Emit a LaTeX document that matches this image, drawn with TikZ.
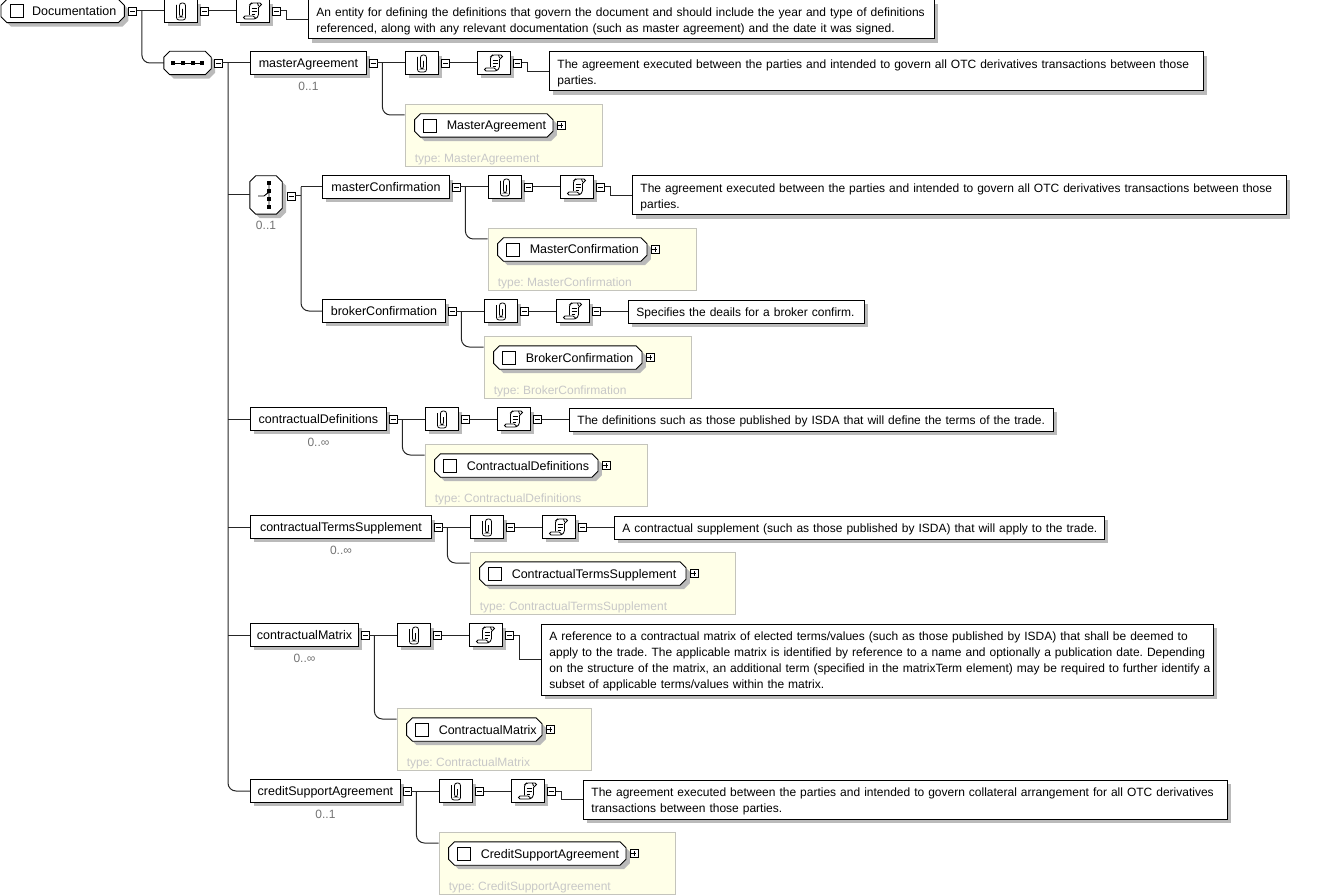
\documentclass[tikz,border=0pt]{standalone}
\usepackage{fontspec}
\setmainfont{Liberation Sans}
\usetikzlibrary{positioning,shadows}
\definecolor{typefill}{HTML}{FFFFE8}
\definecolor{typeline}{HTML}{C4C4BC}
\definecolor{typetext}{HTML}{C8C8C8}
\newcommand{\labelfont}{\fontsize{12.5}{16}\selectfont}
\tikzset{
  shadowed/.style={drop shadow={shadow xshift=4pt,shadow yshift=-4pt,fill=black!27,opacity=1}},
  conn/.style={draw=black!85,line width=1pt},
  elem/.style={rectangle,draw,fill=white,line width=0.9pt,minimum height=22.5pt,inner sep=0pt,text height=11pt,text depth=2pt,font=\labelfont,shadowed},
  chamf/.style={rectangle,minimum height=23pt,inner sep=0pt},
  annobox/.style={elem,minimum width=33pt},
  textbox/.style={rectangle,draw,fill=white,line width=0.9pt,anchor=north west,inner xsep=8pt,inner ysep=0pt,align=left,shadowed},
  minusbox/.style={rectangle,draw,fill=white,line width=0.8pt,minimum size=8pt,inner sep=0pt,
    path picture={\draw[line width=0.8pt] ([xshift=1.5pt]path picture bounding box.west) -- ([xshift=-1.5pt]path picture bounding box.east);}},
  plusbox/.style={rectangle,draw,fill=white,line width=0.8pt,minimum size=8pt,inner sep=0pt,
    path picture={\draw[line width=0.8pt] ([xshift=1.5pt]path picture bounding box.west) -- ([xshift=-1.5pt]path picture bounding box.east)
      ([yshift=1.5pt]path picture bounding box.south) -- ([yshift=-1.5pt]path picture bounding box.north);}},
  tickbox/.style={rectangle,draw,fill=white,line width=0.9pt,minimum size=13pt,inner sep=0pt},
  namelabel/.style={anchor=west,inner sep=0pt,text height=11pt,text depth=2pt,font=\labelfont},
  typebox/.style={rectangle,draw=typeline,fill=typefill,line width=0.9pt,anchor=north west,minimum height=62pt,inner sep=0pt},
  typelabel/.style={text=typetext,anchor=west,inner sep=0pt},
  occlabel/.style={text=black!55,inner sep=0pt},
  every node/.append style={font=\fontsize{12}{16}\selectfont\frenchspacing},
  clipicon/.pic={
    \draw[line width=0.8pt,rounded corners=2.5pt] (2,-2) -- (2,6) -- (-1,6) -- (-1,-8) -- (5,-8) -- (5,9) -- (-4,9) -- (-4,-6);
  },
  scrollicon/.pic={
    \draw[line width=0.8pt,rounded corners=1.5pt] (-3,4) -- (-3,-6) -- (-1,-8) -- (9,-8) -- (9,-5) -- (6,-5) -- (6,5) -- (3,8) -- (-9,8) -- (-9,5) -- (2,5) -- (3,8);
    \draw[line width=0.8pt] (5,-8) -- (6,-5);
    \draw[line width=0.8pt] (-1,-3) -- (4,-3) (-1,0) -- (4,0) (-1,3) -- (2,3);
  }
}
% outline of a chamfered node
\newcommand{\chamfdraw}[1]{
  \draw[line width=0.9pt,fill=white,shadowed] ([xshift=6pt]#1.north west) -- ([xshift=-6pt]#1.north east) -- ([yshift=-6pt]#1.north east) -- ([yshift=6pt]#1.south east) -- ([xshift=-6pt]#1.south east) -- ([xshift=6pt]#1.south west) -- ([yshift=6pt]#1.south west) -- ([yshift=-6pt]#1.north west) -- cycle;
}
% clip, scroll and text of one row: id, y, clip x, text width, lines, text
\newcommand{\annorow}[6]{
  \node[annobox] (#1clip) at (#3+16.5,#2) {};
  \pic at (#1clip) {clipicon};
  \node[minusbox] (#1cmin) at (#3+40.5,#2) {};
  \node[annobox] (#1scroll) at (#3+88.5,#2) {};
  \pic at (#1scroll) {scrollicon};
  \node[minusbox] (#1smin) at (#3+112.5,#2) {};
  \node[textbox,text width=#4pt-17pt,minimum height=7pt+16pt*#5] (#1text) at (#3+144,#2-11.5) {\rule{0pt}{13pt}#6};
  \draw[conn] (#1min.east) -- (#1clip.west);
  \draw[conn] (#1cmin.east) -- (#1scroll.west);
  \draw[conn] (#1smin.east) -- ++(6,0) |- (#1text.west);
}
% id, x, y, width, label, text width, lines, text
\newcommand{\elemrow}[8]{
  \node[elem,minimum width=#4pt,anchor=west] (#1elem) at (#2,#3) {#5};
  \node[minusbox] (#1min) at (#2+#4+7,#3) {};
  \annorow{#1}{#3}{#2+#4+39}{#6}{#7}{#8}
}
% id, top, width, type name
\newcommand{\typerow}[4]{
  \node[typebox,minimum width=#3pt] (#1type) at (#1clip.west |- 0,#2) {};
  \path (#1type.north west) ++(0,11) coordinate (#1join);
  \draw[conn,rounded corners=8pt] ([xshift=5pt]#1min.east) |- (#1join);
  \draw[conn] (#1min.east) -- ++(5,0);
  \path (#1type.north west) ++(10,21.5) node[chamf,minimum width=#3pt-59pt,anchor=west] (#1inner) {};
  \chamfdraw{#1inner}
  \path (#1inner.west) ++(15.5,0) node[tickbox] (#1tick) {};
  \path (#1inner.west) ++(32,0) node[namelabel] (#1name) {#4};
  \path (#1inner.east) ++(8,0) node[plusbox] (#1plus) {};
  \path (#1type.south west) ++(10,-7.5) node[typelabel] (#1kind) {type: #4};
}
\begin{document}
\begin{tikzpicture}[x=1pt,y=-1pt]
\useasboundingbox (0,0) rectangle (1328,896);
% root
\node[chamf,minimum width=123pt,anchor=west] (root) at (1,11) {};
\chamfdraw{root}
\path (root.west) ++(15.5,0) node[tickbox] (roottick) {};
\path (root.west) ++(31,0) node[namelabel] (rootname) {Documentation};
\node[minusbox] (rootmin) at (132.5,11) {};
\annorow{root}{11}{164}{627}{2}{\mbox{An entity for defining the definitions that govern the document and should include the year and type of definitions}\\\mbox{referenced, along with any relevant documentation (such as master agreement) and the date it was signed.}}
% sequence
\node[chamf,minimum width=47pt] (seq) at (187.5,63) {};
\draw[conn,rounded corners=8pt] ([xshift=5pt]rootmin.east) |- (seq.west);
\chamfdraw{seq}
\draw[line width=0.9pt] (172,63) -- (203,63);
\foreach \sx in {173,183,193,202} \fill (\sx-2,61) rectangle (\sx+2,65);
\node[minusbox] (seqmin) at (218,63) {};
\coordinate (trunk) at (228,63);
\draw[conn] (seqmin.east) -- (trunk);
% rows
\elemrow{master}{250}{63}{116}{masterAgreement}{655}{2}{\mbox{The agreement executed between the parties and intended to govern all OTC derivatives transactions between those}\\parties.}
\typerow{master}{104}{197}{MasterAgreement}
\node[occlabel,below=7pt of masterelem] (masterocc) {0..1};
% choice
\node[chamf,minimum width=32pt,minimum height=38pt] (choice) at (266,195) {};
\chamfdraw{choice}
\draw[line width=0.9pt] (269,183) -- (269,207) (258,196) -- (264,196) -- (269,192);
\foreach \sy in {183,191,199,207} \fill (267,\sy-2) rectangle (271,\sy+2);
\node[minusbox] (choicemin) at (291,196) {};
\node[occlabel,below=7pt of choice] (choiceocc) {0..1};
\coordinate (choicetrunk) at (301,187);
\elemrow{conf}{322}{187}{127}{masterConfirmation}{655}{2}{\mbox{The agreement executed between the parties and intended to govern all OTC derivatives transactions between those}\\parties.}
\typerow{conf}{228}{208}{MasterConfirmation}
\elemrow{brok}{322}{311}{123}{brokerConfirmation}{237}{1}{\mbox{Specifies the deails for a broker confirm.}}
\typerow{brok}{336}{207}{BrokerConfirmation}
\draw[conn] (choicemin.east) -- (choicemin.east -| choicetrunk);
\draw[conn] (confelem.west) -- (choicetrunk);
\draw[conn,rounded corners=8pt] (choicetrunk) |- (brokelem.west);
\elemrow{defs}{250}{419}{136}{contractualDefinitions}{485}{1}{\mbox{The definitions such as those published by ISDA that will define the terms of the trade.}}
\typerow{defs}{444}{222}{ContractualDefinitions}
\node[occlabel,below=7pt of defselem] (defsocc) {0..∞};
\elemrow{supp}{250}{527}{181}{contractualTermsSupplement}{491}{1}{\mbox{A contractual supplement (such as those published by ISDA) that will apply to the trade.}}
\typerow{supp}{552}{265}{ContractualTermsSupplement}
\node[occlabel,below=7pt of suppelem] (suppocc) {0..∞};
\elemrow{matrix}{250}{635}{108}{contractualMatrix}{673}{4}{\mbox{A reference to a contractual matrix of elected terms/values (such as those published by ISDA) that shall be deemed to}\\\mbox{apply to the trade. The applicable matrix is identified by reference to a name and optionally a publication date. Depending}\\\mbox{on the structure of the matrix, an additional term (specified in the matrixTerm element) may be required to further identify a}\\\mbox{subset of applicable terms/values within the matrix.}}
\typerow{matrix}{708}{194}{ContractualMatrix}
\node[occlabel,below=7pt of matrixelem] (matrixocc) {0..∞};
\elemrow{cred}{250}{791}{150}{creditSupportAgreement}{645}{2}{\mbox{The agreement executed between the parties and intended to govern collateral arrangement for all OTC derivatives}\\\mbox{transactions between those parties.}}
\typerow{cred}{832}{236}{CreditSupportAgreement}
\node[occlabel,below=7pt of credelem] (credocc) {0..1};
% trunk
\draw[conn,rounded corners=8pt] (trunk) |- (credelem.west);
\draw[conn] (trunk |- masterelem.west) -- (masterelem.west);
\draw[conn] (trunk |- choice.west) -- (choice.west);
\draw[conn] (trunk |- defselem.west) -- (defselem.west);
\draw[conn] (trunk |- suppelem.west) -- (suppelem.west);
\draw[conn] (trunk |- matrixelem.west) -- (matrixelem.west);
\end{tikzpicture}
\end{document}
